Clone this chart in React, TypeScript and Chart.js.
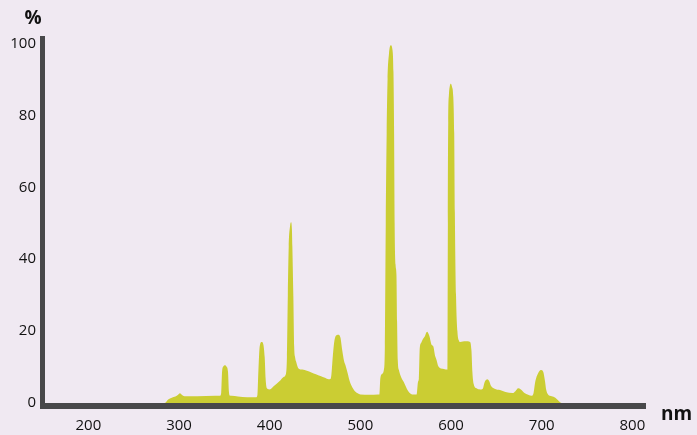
import React, { useEffect, useRef } from 'react';
import { Chart, registerables } from 'chart.js';
Chart.register(...registerables);

// Wavelength (nm) and relative intensity (%)
const wavelengths = [
  150, 284, 288, 292, 296, 299, 301, 303, 306, 320, 340, 345,
  346.5, 347.5, 349, 350.7, 352.5, 354, 355, 356, 358, 365, 375, 385,
  386.5, 387.5, 389, 391.2, 393, 394.5, 395.5, 397, 400, 405, 411, 415, 418,
  419, 420, 421, 422.5, 423.5, 424.5, 425, 426.1, 427, 428, 429.5, 431.5,
  436, 441, 446, 451, 456, 461, 465, 467,
  468, 469.5, 471, 473, 475.5, 478, 480, 482, 483.5, 486, 488, 490.5, 494, 497, 500, 510, 519.5,
  521, 522, 524, 526, 527, 528, 529, 530, 531.5, 533.5, 535.5, 536.5, 537.2, 537.8, 538.8, 539.8,
  540.5, 541.3, 542.5, 545, 548, 552.5, 557, 562,
  563.5, 564.5, 565.5, 567, 569, 571, 573.5, 576, 578.5, 580.5, 582.3, 584, 586, 588, 592, 596.3,
  596.5, 596.9, 597.6, 598.7, 599.8, 601, 602.5, 603.5, 604.2, 605.5, 607, 609, 610, 616, 621,
  622.5, 623.5, 625, 628, 632, 635, 637, 640, 642, 644, 648, 654, 660, 668,
  671, 674, 677, 681, 685, 689, 691, 693, 696, 699, 701.5, 703.5, 705, 707, 711, 715, 718, 722, 815,
];
const intensity = [
  0, 0, 1.0, 1.5, 1.8, 2.3, 2.7, 2.3, 1.9, 1.9, 2.0, 2.0,
  2.8, 8.8, 10.2, 10.5, 10.1, 8.8, 3.3, 2.1, 2.0, 1.8, 1.6, 1.6,
  2.3, 8.8, 15.8, 17.0, 16.3, 12.7, 6.8, 4.1, 3.8, 4.8, 6.1, 7.2, 8.2,
  12.7, 30, 43.5, 49.3, 50.3, 48.4, 43.5, 29.6, 15.7, 12.7, 11.2, 9.7,
  9.3, 9.0, 8.5, 8.0, 7.5, 7.0, 6.6, 6.7,
  7.8, 12.7, 16.7, 18.7, 19.0, 18.2, 14.7, 11.7, 10.6, 8.3, 6.3, 4.7, 3.3, 2.7, 2.4, 2.3, 2.4,
  2.4, 6.8, 8.1, 9.3, 15.7, 50, 75, 90, 97, 99.5, 98, 92, 75, 50, 38.5, 35.5,
  22.6, 11.7, 9.2, 7.2, 5.8, 3.4, 2.4, 2.4,
  5.8, 6.8, 15.3, 16.7, 17.8, 18.5, 19.8, 18.7, 16.2, 15.7, 13.2, 12.0, 10.2, 9.7, 9.5, 9.3,
  50, 78, 85.5, 88.2, 88.8, 88, 85, 75, 53, 30, 20, 17.2, 17.0, 17.2, 17.0,
  14.7, 8.8, 5.3, 4.1, 3.8, 4.0, 5.8, 6.6, 6.1, 4.8, 4.0, 3.6, 3.1, 2.8,
  3.3, 4.1, 3.8, 2.8, 2.3, 2.0, 2.8, 6.1, 8.3, 9.2, 8.8, 6.3, 3.6, 2.4, 1.9, 1.5, 0.8, 0, 0,
];
const xTickValues = [200, 300, 400, 500, 600, 700, 800];
const yTickValues = [0, 20, 40, 60, 80, 100];
const yUnit = '%';
const xUnit = 'nm';

const BG = '#f0e9f2';
const FILL = '#cbcd33';
const AXIS = '#48484a';
const TEXT = '#111111';
const FONT = '"Open Sans", "Noto Sans", sans-serif';

export default function App() {
  const ref = useRef<HTMLCanvasElement>(null);
  useEffect(() => {
    document.body.style.margin = '0';
    document.body.style.background = BG;
    const canvas = ref.current;
    if (!canvas) return;

    const decor = {
      id: 'decor',
      beforeDraw(chart: any) {
        const { ctx, width, height } = chart;
        ctx.save();
        ctx.fillStyle = BG;
        ctx.fillRect(0, 0, width, height);
        ctx.restore();
      },
      afterDraw(chart: any) {
        const { ctx, chartArea } = chart;
        const { left, right, top, bottom } = chartArea;
        ctx.save();
        ctx.fillStyle = AXIS;
        ctx.fillRect(left - 3, top, 5, bottom + 3 - top);
        ctx.fillRect(left - 3, bottom - 3, right - left + 3, 6);
        ctx.fillStyle = TEXT;
        ctx.font = `bold 19px ${FONT}`;
        ctx.textBaseline = 'alphabetic';
        ctx.textAlign = 'center';
        ctx.fillText(yUnit, 33, 24);
        ctx.textAlign = 'left';
        ctx.fillText(xUnit, 661, 420);
        ctx.restore();
      },
    };

    const tickFont = { family: FONT, size: 15, weight: '500' };

    const chart = new Chart(canvas, {
      type: 'line',
      data: {
        datasets: [
          {
            data: wavelengths.map((x, i) => ({ x, y: intensity[i] })),
            fill: 'origin',
            backgroundColor: FILL,
            borderColor: FILL,
            borderWidth: 0,
            pointRadius: 0,
            cubicInterpolationMode: 'monotone',
          },
        ],
      },
      options: {
        animation: false,
        responsive: false,
        maintainAspectRatio: false,
        layout: { padding: { top: 36, right: 51, left: 0, bottom: 0 } },
        plugins: { legend: { display: false }, tooltip: { enabled: false } },
        scales: {
          x: {
            type: 'linear',
            min: 150,
            max: 815,
            grid: { display: false, drawTicks: false },
            border: { display: false },
            ticks: { padding: 11, color: TEXT, font: tickFont, autoSkip: false, maxRotation: 0 },
            afterBuildTicks: (s: any) => {
              s.ticks = xTickValues.map((v) => ({ value: v }));
            },
            afterFit: (s: any) => {
              s.height = 29;
            },
          },
          y: {
            type: 'linear',
            min: -0.82,
            max: 102.05,
            grid: { display: false, drawTicks: false },
            border: { display: false },
            ticks: { padding: 7, color: TEXT, font: tickFont },
            afterBuildTicks: (s: any) => {
              s.ticks = yTickValues.map((v) => ({ value: v }));
            },
            afterFit: (s: any) => {
              s.width = 43;
            },
          },
        },
      },
      plugins: [decor],
    } as any);
    return () => chart.destroy();
  }, []);
  return <canvas ref={ref} width={697} height={435} style={{ display: 'block' }} />;
}
